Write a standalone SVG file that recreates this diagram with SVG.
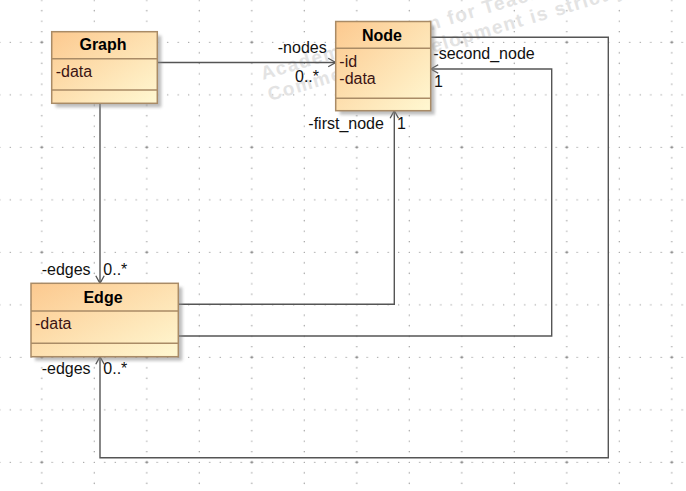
<svg xmlns="http://www.w3.org/2000/svg" width="686" height="491" viewBox="0 0 686 491">
<style>
.box{stroke:#a98b66;stroke-width:1.5;fill:url(#cls)}
.sep{stroke:#a98b66;stroke-width:1.5;fill:none}
.shadow{fill:#888;opacity:.55;filter:url(#blur)}
.title{font-family:"Liberation Sans",Arial,sans-serif;font-size:16px;font-weight:bold;fill:#000;text-anchor:middle}
.attr{font-family:"Liberation Sans",Arial,sans-serif;font-size:16px;fill:#3b1414}
.lbl{font-family:"Liberation Sans",Arial,sans-serif;font-size:16px;fill:#111}
.conn{stroke:#555;stroke-width:1.4;fill:none;marker-end:url(#arr)}
.wm{font-family:"Liberation Sans",Arial,sans-serif;font-size:19px;font-weight:bold;fill:#e3e3e3;letter-spacing:1.5px}
</style>
<defs>
<linearGradient id="cls" x1="0" y1="0" x2="1" y2="1">
<stop offset="0" stop-color="#fcc98f"/>
<stop offset="1" stop-color="#fff8d2"/>
</linearGradient>
<filter id="blur" x="-20%" y="-20%" width="140%" height="140%"><feGaussianBlur stdDeviation="1.5"/></filter>
<pattern id="grid" patternUnits="userSpaceOnUse" x="36.5" y="37" width="52.5" height="52.5">
<g fill="#8a8a8a">
<circle cx="5.25" cy="5.25" r="0.65"/><circle cx="5.25" cy="15.75" r="0.65"/><circle cx="5.25" cy="26.25" r="0.65"/><circle cx="5.25" cy="36.75" r="0.65"/><circle cx="5.25" cy="47.25" r="0.65"/>
<circle cx="15.75" cy="5.25" r="0.65"/><circle cx="26.25" cy="5.25" r="0.65"/><circle cx="36.75" cy="5.25" r="0.65"/><circle cx="47.25" cy="5.25" r="0.65"/>
</g>
</pattern>
<pattern id="major" patternUnits="userSpaceOnUse" x="36.5" y="37" width="105" height="105">
<path d="M3.75 5.25h3M5.25 3.75v3" stroke="#8a8a8a" stroke-width="1"/>
</pattern>
<marker id="arr" markerUnits="userSpaceOnUse" markerWidth="12" markerHeight="12" viewBox="-10 -6 12 12" refX="0" refY="0" orient="auto">
<path d="M-7.5 -4.2L0 0L-7.5 4.2" fill="none" stroke="#555" stroke-width="1.3"/>
</marker>
</defs>
<rect width="686" height="491" fill="#fff"/>
<rect width="686" height="491" fill="url(#grid)"/>
<rect width="686" height="491" fill="url(#major)"/>
<g id="watermark">
<text class="wm" x="263" y="80" transform="rotate(-16.5 263 80)">Academic Version for Teaching Only</text>
<text class="wm" x="270" y="101" transform="rotate(-16.5 270 101)">Commercial Development is strictly prohibited</text>
</g>
<g id="connectors">
<path class="conn" d="M157.3 62.5H335.7"/>
<path class="conn" d="M100 103.3V283.3"/>
<path class="conn" d="M178.3 304.3H394.3V110.7"/>
<path class="conn" d="M178.3 336H551.7V69H430.7"/>
<path class="conn" d="M430.7 37.3H608.3V457.7H100V356.7"/>
<text class="lbl" x="326.7" y="53.3" text-anchor="end">-nodes</text>
<text class="lbl" x="295" y="81.7">0..*</text>
<text class="lbl" x="41.7" y="275">-edges</text>
<text class="lbl" x="103.3" y="275">0..*</text>
<text class="lbl" x="41.7" y="374.3">-edges</text>
<text class="lbl" x="103.3" y="374.3">0..*</text>
<text class="lbl" x="308.3" y="129.3">-first_node</text>
<text class="lbl" x="397" y="129.3">1</text>
<text class="lbl" x="433.3" y="59.3">-second_node</text>
<text class="lbl" x="434" y="86.7">1</text>
</g>
<g id="Graph">
<rect class="shadow" x="55.7" y="35.7" width="105.6" height="71.6"/>
<rect class="box" x="51.7" y="31.7" width="105.6" height="71.6"/>
<path class="sep" d="M51.7 58.7H157.3M51.7 90H157.3"/>
<text class="title" x="103" y="50">Graph</text>
<text class="attr" x="55.7" y="76.5">-data</text>
</g>
<g id="Node">
<rect class="shadow" x="339.7" y="25.5" width="95" height="89.2"/>
<rect class="box" x="335.7" y="21.5" width="95" height="89.2"/>
<path class="sep" d="M335.7 48.3H430.7M335.7 98.3H430.7"/>
<text class="title" x="382" y="40.5">Node</text>
<text class="attr" x="339.3" y="66.5">-id</text>
<text class="attr" x="339.3" y="84.3">-data</text>
</g>
<g id="Edge">
<rect class="shadow" x="35" y="287.3" width="147.3" height="73.4"/>
<rect class="box" x="31" y="283.3" width="147.3" height="73.4"/>
<path class="sep" d="M31 311H178.3M31 343.3H178.3"/>
<text class="title" x="103" y="302.7">Edge</text>
<text class="attr" x="35" y="329.3">-data</text>
</g>
</svg>
